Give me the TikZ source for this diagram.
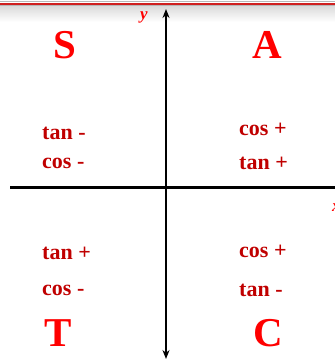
\documentclass[tikz,border=0pt]{standalone}
\usepackage{fontspec}
\setmainfont{Liberation Serif}
\usetikzlibrary{arrows.meta, positioning}
\definecolor{myred}{HTML}{FF0000}
\definecolor{mydarkred}{HTML}{C00000}
\definecolor{mybarred}{HTML}{D02020}
\definecolor{mybargray}{HTML}{B8B8B8}
\tikzset{
quadrant/.style={
text=myred,
font=\fontsize{41}{41}\selectfont\bfseries,
inner sep=0pt
},
signtext/.style={
text=mydarkred,
font=\fontsize{22}{22}\selectfont\bfseries,
anchor=base west,
inner sep=0pt
},
axislabel/.style={
text=myred,
font=\fontsize{17}{17}\selectfont\bfseries\itshape,
inner sep=0pt
},
axis/.style={
line width=2pt,
draw=black
},
arrow/.style={
-{Stealth[length=9pt,width=7pt]}
}
}

\begin{document}
\begin{tikzpicture}[x=1pt,y=-1pt]
\useasboundingbox (0,0) rectangle (335,362);

% top bar
\shade[top color=gray!30, bottom color=white] (0,5) rectangle (335,22);
\draw[mybargray, line width=1pt] (0,1.5) -- (335,1.5);
\draw[mybarred, line width=2pt] (0,3.5) -- (335,3.5);
\draw[mybargray, line width=1pt] (0,5.5) -- (335,5.5);

% axes
\coordinate (origin) at (166,187);
\coordinate (ytop) at (166,9);
\coordinate (ybot) at (166,359);
\coordinate (xleft) at (10,187);
\coordinate (xright) at (340,187);
\draw[axis, arrow] (origin) -- (ytop);
\draw[axis, arrow] (origin) -- (ybot);
\draw[axis, line width=3pt] (xleft) -- (xright);
\node[axislabel] (ylabel) at (144,17) {y};
\node[axislabel, anchor=west] (xlabel) at (332,208) {x};

% quadrant letters
\node[quadrant] (S) at (65,45) {S};
\node[quadrant] (A) at (267,45) {A};
\node[quadrant] (T) at (58,333) {T};
\node[quadrant] (C) at (268,333) {C};

% signs
\node[signtext] (s1) at (42,139) {tan -};
\node[signtext] (s2) at (42,168) {cos -};
\node[signtext] (a1) at (239,135) {cos +};
\node[signtext] (a2) at (239,169) {tan +};
\node[signtext] (t1) at (42,259) {tan +};
\node[signtext] (t2) at (42,295) {cos -};
\node[signtext] (c1) at (239,257) {cos +};
\node[signtext] (c2) at (239,296) {tan -};

\end{tikzpicture}
\end{document}
